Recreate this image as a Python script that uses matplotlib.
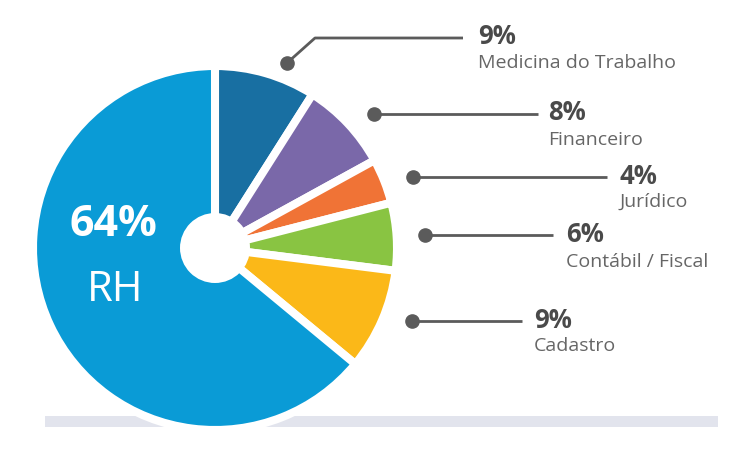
import matplotlib
matplotlib.use("Agg")
import matplotlib.pyplot as plt
from matplotlib.patches import Circle, Rectangle

# ---- data ----
categories = ["Medicina do Trabalho", "Financeiro", "Jurídico", "Contábil / Fiscal", "Cadastro", "RH"]
values = [9, 8, 4, 6, 9, 64]
colors = ["#186fa2", "#7a68a9", "#f07336", "#89c442", "#fbb818", "#0a9bd6"]

# ---- layout (pixel space, y from top) ----
W, H = 729, 449
cx, cy, R, hole = 215, 248, 182, 35
# callouts: dot, elbow (or None), line end, text x, pct y, label y
callouts = [
    ((287, 63), (315, 38), (463, 38), 478, 37, 63),
    ((374, 114), None, (538, 114), 548, 113, 140),
    ((413, 177), None, (607, 177), 620, 176, 202),
    ((425, 235), None, (553, 235), 566, 235, 262),
    ((412, 321), None, (522, 321), 534, 320, 346),
]

plt.rcParams['font.family'] = ['Open Sans', 'DejaVu Sans']

fig = plt.figure(figsize=(W / 100, H / 100), dpi=100)
ax = fig.add_axes([0, 0, 1, 1])

def Y(y):
    return H - y

# background bar
ax.add_patch(Rectangle((45, Y(427)), 718 - 45, 11, facecolor="#e2e4ed", edgecolor="none", zorder=1))

wedges, _ = ax.pie(values, colors=colors, startangle=90, counterclock=False,
                   center=(cx, Y(cy)), radius=R, frame=True,
                   wedgeprops=dict(edgecolor="white", linewidth=5.8))
for w in wedges:
    w.set_zorder(2)
ax.set_xlim(0, W)
ax.set_ylim(0, H)
ax.set_aspect('equal')
ax.axis('off')
ax.add_patch(Circle((cx, Y(cy)), hole, facecolor="white", edgecolor="none", zorder=3))

# center text for the biggest slice
ax.text(113, Y(225), f"{values[5]}%", color="white", fontsize=31, fontweight="bold",
        ha="center", va="center", zorder=4)
ax.text(115, Y(290), categories[5], color="white", fontsize=30,
        ha="center", va="center", zorder=4)

line_col = "#5b5b5b"
for i, (dot, elbow, end, tx, py, ly) in enumerate(callouts):
    xs = [dot[0]] + ([elbow[0]] if elbow else []) + [end[0]]
    ys = [Y(dot[1])] + ([Y(elbow[1])] if elbow else []) + [Y(end[1])]
    ax.plot(xs, ys, color=line_col, lw=2, solid_capstyle='butt', zorder=5)
    ax.plot([dot[0]], [Y(dot[1])], 'o', color=line_col, ms=9.5, zorder=6)
    ax.text(tx, Y(py), f"{values[i]}%", color="#4a4a4a", fontsize=18.5, fontweight="bold",
            ha="left", va="center")
    ax.text(tx, Y(ly), categories[i], color="#666666", fontsize=14,
            ha="left", va="center")

fig.savefig("out.png", dpi=100, facecolor="white")
